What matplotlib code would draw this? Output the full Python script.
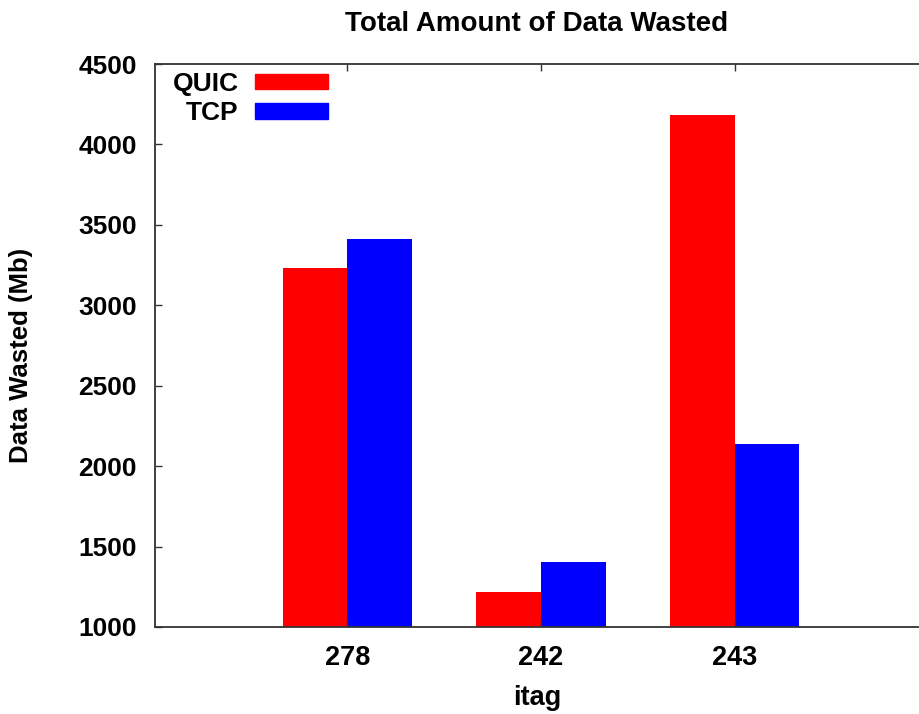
import matplotlib
matplotlib.use("Agg")
import matplotlib.pyplot as plt
import numpy as np
from matplotlib.patches import Patch

plt.rcParams['font.family'] = ['Liberation Sans', 'DejaVu Sans']
plt.rcParams['font.weight'] = 'bold'

categories = ["278", "242", "243"]
quic = [3230, 1220, 4185]
tcp = [3415, 1405, 2135]
yticks = [1000, 1500, 2000, 2500, 3000, 3500, 4000, 4500]

fig = plt.figure(figsize=(9.19, 7.14), dpi=100)
ax = fig.add_axes([154.7 / 919, 87 / 714, 1 - 154.7 / 919, (627 - 64) / 714])

x = np.arange(len(categories))
w = 1 / 3
ax.bar(x - w / 2, quic, width=w, color='#ff0000', edgecolor='none', label='QUIC')
ax.bar(x + w / 2, tcp, width=w, color='#0000ff', edgecolor='none', label='TCP')

ax.set_xlim(-0.994, 2.951)
ax.set_ylim(1000, 4500)
ax.set_yticks(yticks)
ax.set_yticklabels([str(v) for v in yticks])
ax.set_xticks(x)
ax.set_xticklabels(categories)

for s in ['left', 'bottom', 'top']:
    ax.spines[s].set_color('#333333')
    ax.spines[s].set_linewidth(1.3)
ax.spines['right'].set_visible(False)

ax.tick_params(axis='both', direction='in', length=5, width=1, color='#333333',
               labelsize=19)
ax.tick_params(axis='y', pad=13)
ax.tick_params(axis='x', pad=13, top=True, labelsize=19.5)
ax.tick_params(axis='y', right=False)

ax.set_title("Total Amount of Data Wasted", fontsize=20, fontweight='bold', pad=24)
ax.set_xlabel("itag", fontsize=19.5, fontweight='bold', labelpad=10)
ax.set_ylabel("Data Wasted (Mb)", fontsize=18.5, fontweight='bold')
ax.yaxis.set_label_coords((33 - 154.7) / 764.3, (627 - 355) / 563)

handles = [Patch(color='#ff0000'), Patch(color='#0000ff')]
leg = ax.legend(handles, ['QUIC', 'TCP'], loc='upper left', markerfirst=False,
                frameon=False, fontsize=19, handlelength=2.75, handleheight=0.52,
                labelspacing=0.2, handletextpad=0.64, borderaxespad=0.0,
                borderpad=0.3, bbox_to_anchor=(0.013, 1.0))
for t in leg.get_texts():
    t.set_ha('right')

fig.savefig("out.png", dpi=100)
